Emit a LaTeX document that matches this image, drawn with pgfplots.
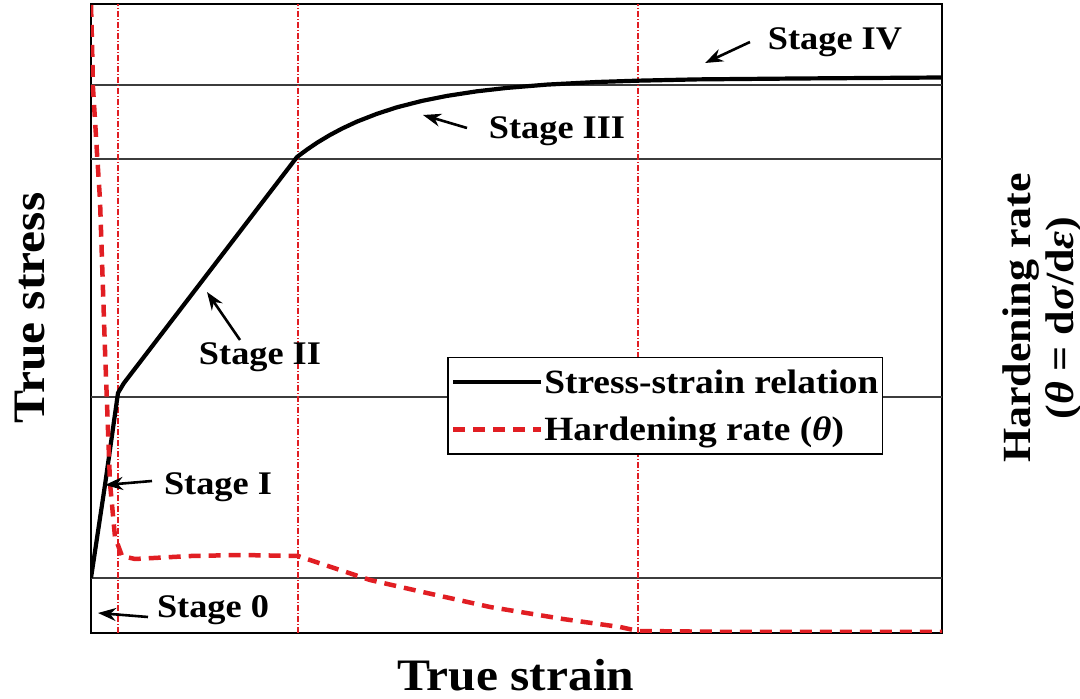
\documentclass[border=0pt]{standalone}
\usepackage{fontspec}
\setmainfont{Liberation Serif}[FakeStretch=1.1]
\usepackage{pgfplots}
\pgfplotsset{compat=1.18}
\usetikzlibrary{arrows.meta}
\definecolor{myred}{RGB}{225,30,35}
\definecolor{gridgray}{RGB}{60,60,60}
\begin{document}
\begin{tikzpicture}
\useasboundingbox (-91pt,-66pt) rectangle (989pt,633pt);
\begin{axis}[
  scale only axis,
  width=851pt, height=629pt,
  xmin=0, xmax=851, ymin=0, ymax=629,
  xtick=\empty, ytick=\empty,
  axis line style={line width=2.8pt},
  clip=true,
  legend style={at={(axis cs:356,276)}, anchor=north west, draw=black, line width=1.5pt,
    fill=white, inner xsep=3pt, inner ysep=11pt, row sep=20pt,
    font=\fontsize{34}{40}\selectfont\bfseries,
    nodes={inner sep=1pt}},
  legend cell align=left,
  legend image code/.code={\draw[#1] (0pt,0pt) -- (88pt,0pt);},
]
% horizontal reference lines
\addplot[forget plot, gridgray, line width=1.3pt] coordinates {(0,548) (851,548)};
\addplot[forget plot, gridgray, line width=1.3pt] coordinates {(0,474) (851,474)};
\addplot[forget plot, gridgray, line width=1.3pt] coordinates {(0,236) (851,236)};
\addplot[forget plot, gridgray, line width=1.3pt] coordinates {(0,55) (851,55)};
% vertical stage boundaries
\addplot[forget plot, myred, line width=1.1pt, dash pattern=on 6pt off 2pt on 1pt off 2pt] coordinates {(27,0) (27,629)};
\addplot[forget plot, myred, line width=1.1pt, dash pattern=on 6pt off 2pt on 1pt off 2pt] coordinates {(207,0) (207,629)};
\addplot[forget plot, myred, line width=1.1pt, dash pattern=on 6pt off 2pt on 1pt off 2pt] coordinates {(547,0) (547,629)};
% stress-strain
\addplot[black, line width=4.2pt, line join=round] coordinates {
 (0,55) (14,148) (27,240) (33,250) (206,476) (216,483.4) (226,490.2) (239,498) (251,504.4) (266,511.4) (286,519.2) (306,525.7) (331,532.1) (356,537.1) (386,541.7) (416,545.1) (456,548.4) (506,551) (546,552.3) (606,553.6) (706,554.5) (851,555.5)};
\addlegendentry{Stress-strain relation}
% hardening rate
\addplot[myred, line width=4.5pt, dash pattern=on 12pt off 8pt, line join=round] coordinates {
 (0,628) (1,590) (2,545) (4,513) (6,480) (9,433) (14,283) (19,150) (24,96) (31,77) (44,74) (100,77) (150,78) (207,77) (279,53) (336,40) (399,26) (472,14) (529,6) (547,2) (650,1) (851,1)};
\addlegendentry{Hardening rate (\textit{θ})}
% annotations
\node[font=\fontsize{33}{38}\selectfont\bfseries] at (axis cs:744,591) {Stage IV};
\draw[-{Stealth[length=18pt,width=13pt]}, line width=2.6pt] (axis cs:659,591) -- (axis cs:614,570);
\node[font=\fontsize{33}{38}\selectfont\bfseries] at (axis cs:466,502) {Stage III};
\draw[-{Stealth[length=18pt,width=13pt]}, line width=2.6pt] (axis cs:376,505) -- (axis cs:332,518);
\node[font=\fontsize{33}{38}\selectfont\bfseries] at (axis cs:169,276) {Stage II};
\draw[-{Stealth[length=18pt,width=13pt]}, line width=2.6pt] (axis cs:149,293) -- (axis cs:116,341);
\node[font=\fontsize{33}{38}\selectfont\bfseries] at (axis cs:127,146) {Stage I};
\draw[-{Stealth[length=18pt,width=13pt]}, line width=2.6pt] (axis cs:61,152) -- (axis cs:14,148);
\node[font=\fontsize{33}{38}\selectfont\bfseries] at (axis cs:122,23) {Stage 0};
\draw[-{Stealth[length=18pt,width=13pt]}, line width=2.6pt] (axis cs:57,16) -- (axis cs:7,20);
\end{axis}
% axis titles
\node[font=\fontsize{45}{50}\selectfont\bfseries, rotate=90] at (-61pt,325pt) {True stress};
\node[font=\fontsize{45}{50}\selectfont\bfseries, anchor=base] at (425pt,-58pt) {True strain};
\node[font=\fontsize{40}{43}\selectfont\bfseries, rotate=90, align=center, inner sep=1pt] at (951pt,315pt)
  {Hardening rate\\(\textit{θ} = d\textit{σ}/d\textit{ε})};
\end{tikzpicture}
\end{document}
